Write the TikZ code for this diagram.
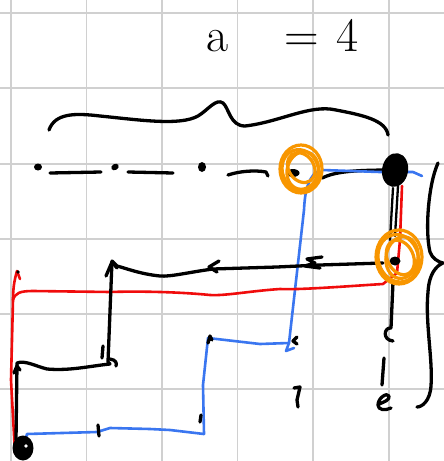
\documentclass[tikz,border=0pt]{standalone}
\usepackage{fontspec}
\usetikzlibrary{calc}
\definecolor{penorange}{RGB}{248,150,0}
\definecolor{penblue}{RGB}{58,118,240}
\definecolor{penred}{RGB}{240,12,12}
\definecolor{gridgray}{RGB}{208,208,208}
\begin{document}
\begin{tikzpicture}[x=1pt,y=-1pt, line cap=round, line join=round,
  ink/.style={line width=3.3pt, draw=black},
  thinink/.style={line width=2.3pt, draw=black},
  bluepen/.style={line width=2.6pt, draw=penblue},
  redpen/.style={line width=2.6pt, draw=penred},
  hilite/.style={line width=3.2pt, draw=penorange},
  gridline/.style={line width=1.5pt, draw=gridgray},
  blob/.style={fill=black}]
\useasboundingbox (0,0) rectangle (444,461);
\fill[white] (0,0) rectangle (444,461);
% grid
\foreach \x in {11,86.5,162,237.5,313,389} \draw[gridline] (\x,0) -- (\x,461);
\foreach \y in {13,88,164,239,314,389} \draw[gridline] (0,\y) -- (444,\y);

% title
\node[anchor=base west, inner sep=0pt, font=\fontsize{48}{48}\selectfont] (title) at (206,51) {a\hspace{56pt}=\hspace{18pt}4};

% top brace
\draw[ink] (49,130) .. controls (55,113) and (75,113) .. (100,116)
  .. controls (140,120) and (180,126) .. (198,116)
  .. controls (208,110) and (216,98) .. (223,103)
  .. controls (229,108) and (230,126) .. (245,126)
  .. controls (280,122) and (310,104) .. (336,110)
  .. controls (362,115) and (386,120) .. (388,135);

% right brace
\draw[ink] (438,163) .. controls (428,185) and (425,232) .. (430,252)
  .. controls (432,258) and (438,262) .. (443,263)
  .. controls (436,266) and (429,274) .. (428,292)
  .. controls (425,322) and (433,360) .. (431,386)
  .. controls (430,401) and (422,407) .. (417,407);

% named points
\coordinate (d1) at (38,167);
\coordinate (d2) at (115,167);
\coordinate (d3) at (202,167);
\coordinate (o1) at (301,169);
\coordinate (big) at (395,170);
\coordinate (o2) at (399,257);
\coordinate (bl) at (23,448);
\coordinate (bA) at (112,261);
\coordinate (bB) at (110,364);
\coordinate (bC) at (17,363);
\coordinate (uA) at (289,343);
\coordinate (uB) at (208,338);
\coordinate (uC) at (204,434);
\coordinate (rtop) at (17,271);

% top row of dots and dashes
\fill[blob] (d1) ellipse (4 and 3.5);
\draw[ink] (50,173) -- (101,172);
\fill[blob,rotate around={30:(d2)}] (d2) ellipse (4 and 3);
\draw[ink] (128,172) -- (173,173);
\fill[blob] (d3) ellipse (4 and 5);
\draw[ink] (228,175) .. controls (240,171) and (255,170) .. (266,172) -- (268,176);

% black connector circle 1 -> big dot
\draw[ink] (322,178) .. controls (335,172) and (350,170) .. (big);

% blue path
\draw[bluepen] (322,170) -- (380,172) -- (413,172) -- (422,176);
\draw[bluepen] (316,172) .. controls (308,180) and (305,190) .. (304,210)
  -- (uA) -- (286,351) -- (294,348);
\draw[bluepen] (uA) -- (260,344) -- (uB) -- (203,385) -- (204,434);
\draw[bluepen] (uC) -- (170,430) -- (150,429) -- (110,428) -- (97,432) -- (27,434) -- (25,441);

% red path
\draw[redpen] (402,186) -- (400,240) -- (397,273) -- (383,284)
  .. controls (350,286) and (300,290) .. (280,289)
  .. controls (250,291) and (225,296) .. (210,295)
  .. controls (180,292) and (140,291) .. (110,292)
  -- (33,291) .. controls (20,291) and (15,293) .. (13,300)
  -- (11,380) -- (15,453);
\draw[redpen] (rtop) .. controls (15,278) and (13,286) .. (13,300);
\draw[redpen] (rtop) -- (20,279);

% black path through lower left
\draw[thinink] (393,188) -- (390,240);
\draw[thinink] (398,186) -- (395,236);
\draw[ink] (383,263) -- (320,265) -- (277,267) -- (213,269)
  .. controls (190,272) and (170,277) .. (160,276)
  .. controls (140,274) and (125,268) .. (117,266) -- (bA);
\draw[ink] (bA) -- (108,362) -- (bB);
\draw[ink] (bB) .. controls (90,366) and (70,371) .. (47,369)
  .. controls (35,366) and (25,360) .. (bC) -- (16,440);

% arrow-like marks
\draw[ink] (322,257) -- (307,259) -- (315,263) -- (305,266) -- (320,268);
\draw[ink] (219,261) -- (209,267) -- (217,272);
\draw[ink] (106,276) -- (112,262) -- (117,268);
\draw[ink] (103,346) -- (102,358);
\draw[ink] (110,359) .. controls (116,360) and (117,363) .. (116,366);
\draw[ink] (14,373) -- (17,366) -- (20,370);
\draw[ink] (297,337) -- (293,341) -- (297,344);
\draw[ink] (208,343) -- (210,336) -- (212,340);
\draw[ink] (200,422) -- (201,415);
\draw[ink] (98,425) -- (99,436);
\fill[blob] (18,272) circle (1.8);

% right column marks
\draw[ink] (393,282) -- (391,328) .. controls (384,327) and (382,340) .. (393,341);
\draw[ink] (384,358) -- (382,385);
\draw[ink] (379,404) .. controls (384,402) and (390,400) .. (389,396)
  .. controls (387,392) and (378,398) .. (378,405)
  .. controls (378,410) and (385,411) .. (391,408);
\draw[ink] (294,388) -- (300,387) -- (297,400) -- (298,407);

% blobs
\fill[blob,rotate around={-10:(big)}] (big) ellipse (13 and 17);
\fill[blob] (bl) ellipse (10.5 and 12.5);
\fill[white] (26,446) circle (1.8);
\fill[blob] (293,173) ellipse (6.5 and 4);
\fill[blob] (395,261) ellipse (5.5 and 4.5);

% orange highlight rings
\draw[hilite] (o1) ellipse (21 and 24);
\draw[hilite,rotate around={20:(o1)}] ($(o1)+(-1,1)$) ellipse (18 and 21);
\draw[hilite,rotate around={-15:(o1)}] ($(o1)+(2,1)$) ellipse (15.5 and 19);
\draw[hilite,rotate around={35:(o1)}] ($(o1)+(1,-1)$) ellipse (12.5 and 16);
\draw[hilite] (o2) ellipse (23 and 27);
\draw[hilite,rotate around={15:(o2)}] ($(o2)+(-1,1)$) ellipse (20 and 24);
\draw[hilite,rotate around={-10:(o2)}] ($(o2)+(3,0)$) ellipse (16 and 21);
\draw[hilite,rotate around={25:(o2)}] ($(o2)+(1,1)$) ellipse (13 and 18);
\end{tikzpicture}
\end{document}
